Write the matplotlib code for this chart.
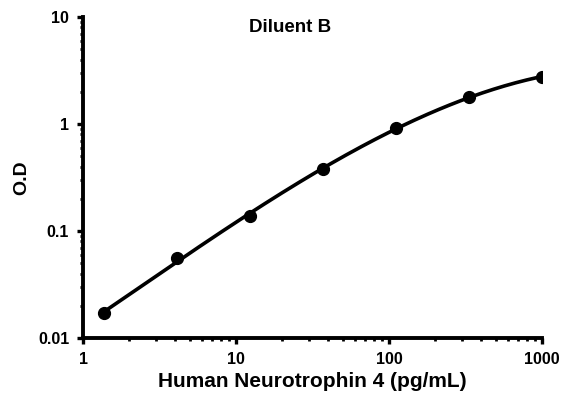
import numpy as np
import matplotlib.pyplot as plt
from matplotlib.ticker import LogLocator, NullFormatter, FixedFormatter, FixedLocator

plt.rcParams['font.family'] = ['Liberation Sans', 'DejaVu Sans']
plt.rcParams['font.weight'] = 'bold'

# concentration (pg/mL), 3-fold dilutions
conc = [1.37, 4.12, 12.35, 37.04, 111.1, 333.3, 1000]
od = [0.0171, 0.056, 0.138, 0.38, 0.92, 1.79, 2.75]

fig = plt.figure(figsize=(5.79, 3.98), dpi=100)
ax = fig.add_axes([0.1434, 0.1508, 0.7927, 0.8065])

# smooth fitted curve in log-log space
lx = np.log10(conc)
ly = np.log10(od)
coef = np.polyfit(lx, ly, 3)
xs = np.linspace(lx[0], lx[-1], 200)
ax.plot(10 ** xs, 10 ** np.polyval(coef, xs), color='black', lw=2.6)
ax.plot(conc, od, 'o', color='black', ms=8.5)

ax.set_xscale('log')
ax.set_yscale('log')
ax.set_xlim(1, 1000)
ax.set_ylim(0.01, 10)

ax.xaxis.set_major_locator(FixedLocator([1, 10, 100, 1000]))
ax.xaxis.set_major_formatter(FixedFormatter(['1', '10', '100', '1000']))
ax.yaxis.set_major_locator(FixedLocator([0.01, 0.1, 1, 10]))
ax.yaxis.set_major_formatter(FixedFormatter(['0.01', '0.1', '1', '10']))
ax.xaxis.set_minor_locator(LogLocator(base=10, subs=np.arange(2, 10)))
ax.yaxis.set_minor_locator(LogLocator(base=10, subs=np.arange(2, 10)))
ax.xaxis.set_minor_formatter(NullFormatter())
ax.yaxis.set_minor_formatter(NullFormatter())

for s in ['top', 'right']:
    ax.spines[s].set_visible(False)
for s in ['left', 'bottom']:
    ax.spines[s].set_linewidth(2.8)
ax.tick_params(which='major', length=4, width=2.4, labelsize=11.5, pad=6)
ax.tick_params(which='minor', length=2.5, width=2)

ax.set_xlabel('Human Neurotrophin 4 (pg/mL)', fontsize=15, fontweight='bold', labelpad=4)
ax.set_ylabel('O.D', fontsize=14, fontweight='bold')
ax.yaxis.set_label_coords(-0.115, 0.5)
fig.text(290 / 579, 1 - 27 / 398, 'Diluent B', fontsize=13.5, fontweight='bold',
         ha='center', va='center')

fig.savefig('out.png', dpi=100)
